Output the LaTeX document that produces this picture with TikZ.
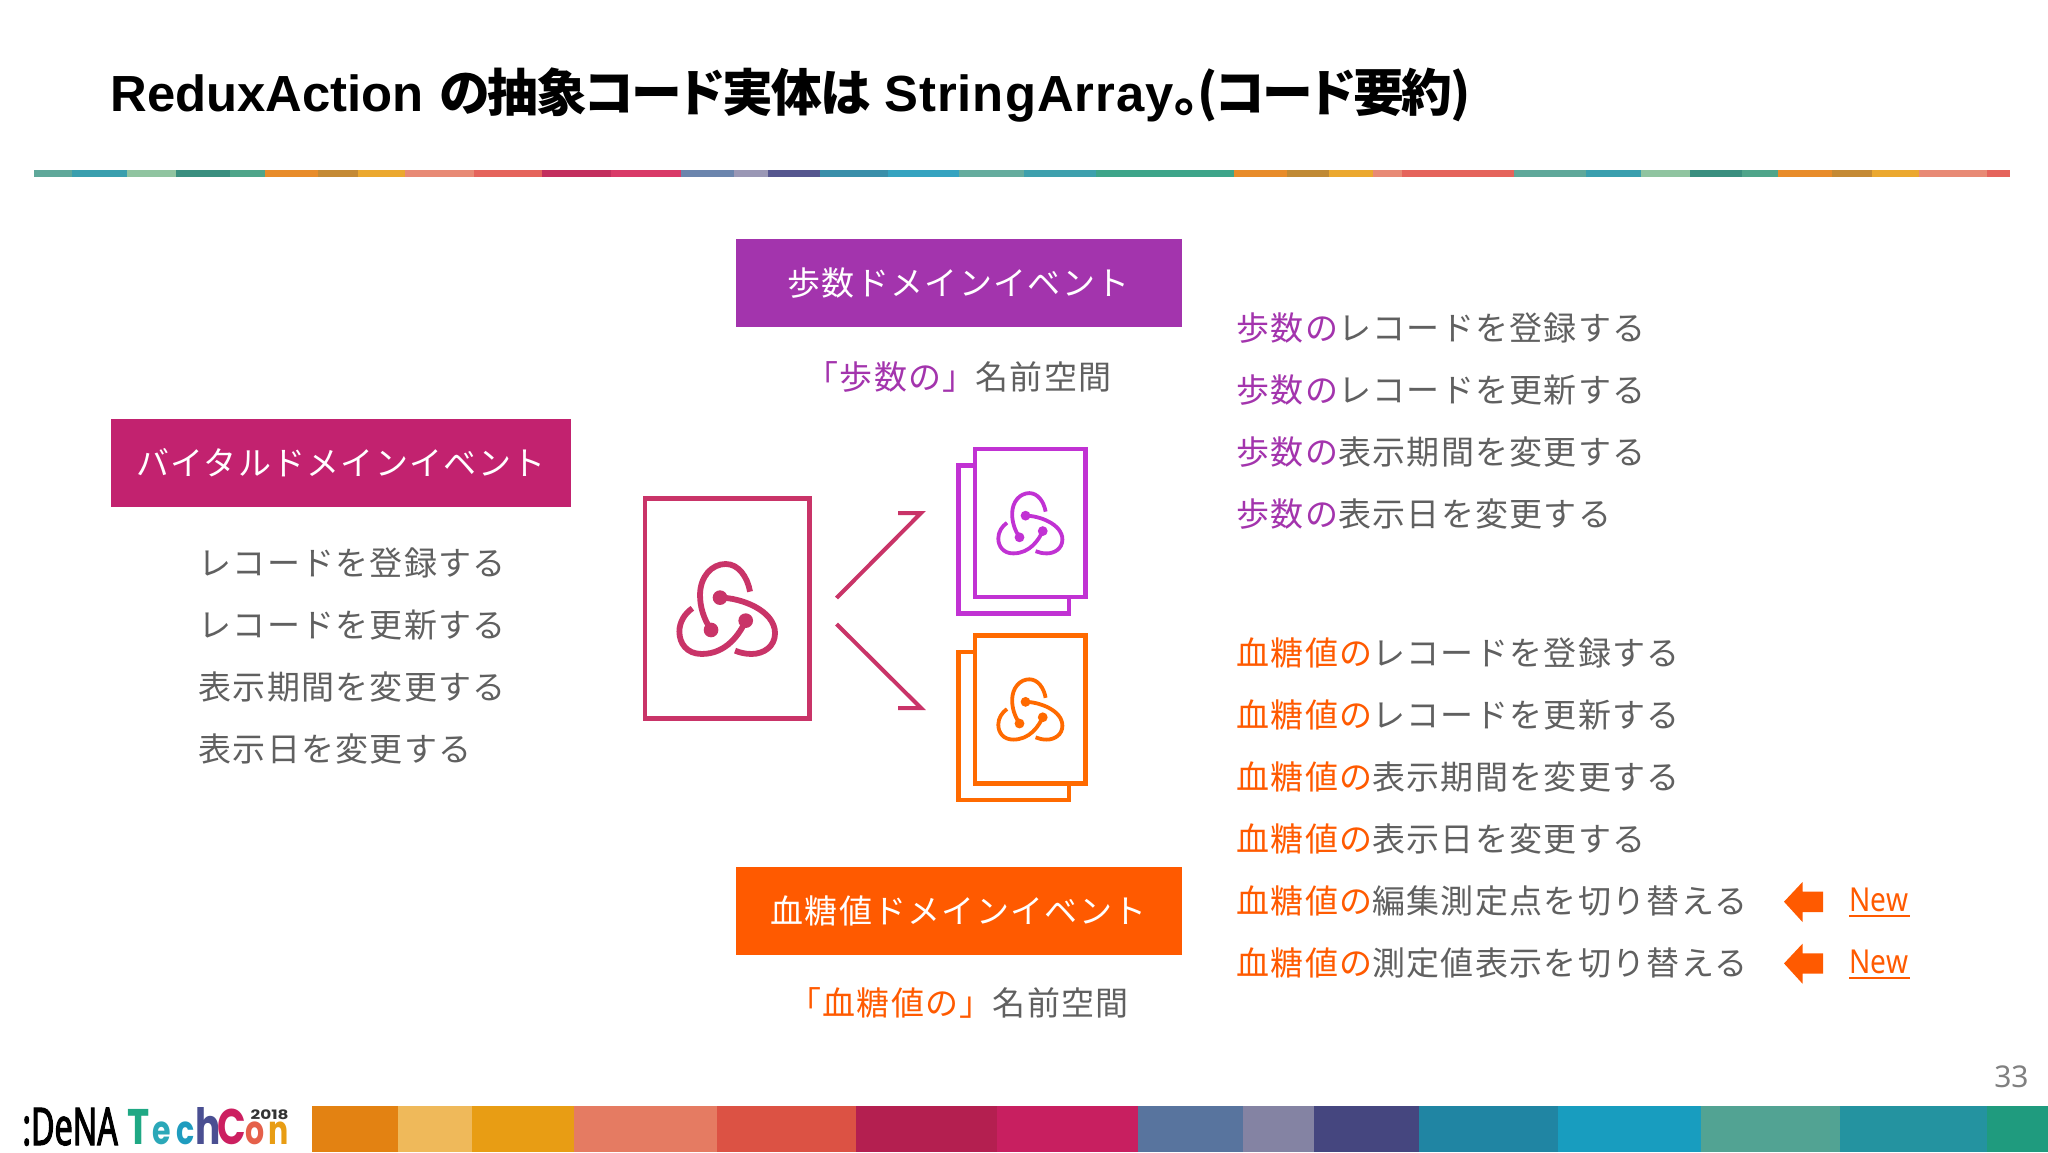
\documentclass[tikz,border=0pt]{standalone}
\usepackage{fontspec}
\setmainfont{Noto Sans CJK JP}
\newfontfamily\bodyf[LetterSpace=4]{Noto Sans CJK JP}
\newfontfamily\titlecjk[RawFeature=+palt,LetterSpace=-4]{Noto Sans CJK JP}
\newfontfamily\titlelat{Liberation Sans}
\newfontfamily\titlelatb[LetterSpace=2]{Liberation Sans}
\newfontfamily\newf{Noto Sans}
\newfontfamily\newnf[FakeStretch=0.85]{Noto Sans}
\newfontfamily\logof[FakeStretch=0.62,FakeBold=2]{Noto Sans}
\newfontfamily\techf[FakeStretch=0.75]{Poppins}
\newfontfamily\yearf[FakeStretch=1.3]{Poppins}
\definecolor{crim}{HTML}{C93468}
\definecolor{purp}{HTML}{C132D3}
\definecolor{oran}{HTML}{FF6A00}
\definecolor{hpurp}{HTML}{A334AD}
\definecolor{hcrim}{HTML}{C2226F}
\definecolor{horan}{HTML}{FF5A00}
\definecolor{txt}{HTML}{606060}
\definecolor{seg}{HTML}{000000}
\tikzset{
  header/.style={inner sep=0pt,text=white,font=\bodyf\fontsize{16.5}{18}\selectfont,anchor=center},
  linetext/.style={inner sep=0pt,anchor=base west,text=txt,font=\bodyf\fontsize{16.5}{18}\selectfont},
  nstext/.style={inner sep=0pt,anchor=base,text=txt,font=\bodyf\fontsize{16.5}{18}\selectfont},
  sheet/.style={draw=#1,fill=white,line width=2.33pt,inner sep=0pt,minimum width=55.35pt,minimum height=74pt},
  bigsheet/.style={draw=#1,fill=white,line width=2.33pt,inner sep=0pt,minimum width=82.35pt,minimum height=110.2pt},
  halfarrow/.style={draw=crim,line width=2pt,miter limit=10},
  newarrow/.style={fill=horan,draw=none},
  newlabel/.style={inner sep=0pt,anchor=base west,text=horan,font=\newnf\fontsize{16.5}{18}\selectfont},
}
\newcommand{\lgbox}[3]{\makebox[11.6pt]{\textcolor[HTML]{#1}{\fontsize{#2}{30}\selectfont #3}}}
% logo: centre x, centre y, scale, line width, colour
\newcommand{\reduxlogo}[5]{%
  \begin{scope}[shift={(#1,#2)},scale=#3]
    \draw[#5,line width=#4] (-47,65) .. controls (-70,30) and (-80,-5) .. (-80,-40) .. controls (-80,-95) and (-45,-133) .. (-3,-133) .. controls (35,-133) and (62,-95) .. (70,-50);
    \draw[#5,line width=#4] (-20,-32) .. controls (40,-32) and (145,5) .. (145,75) .. controls (145,115) and (110,137) .. (75,137) .. controls (55,137) and (40,133) .. (25,127);
    \draw[#5,line width=#4] (57,37) .. controls (40,75) and (0,137) .. (-75,137) .. controls (-120,137) and (-142,105) .. (-142,70) .. controls (-142,40) and (-125,15) .. (-103,0);
    \fill[#5] (-20,-32) circle (22) (-47,65) circle (22) (57,37) circle (22);
  \end{scope}}
\begin{document}
\begin{tikzpicture}[x=0.5pt,y=-0.5pt]
\useasboundingbox (0,0) rectangle (2048,1152);
\fill[white] (0,0) rectangle (2048,1152);

% title
\node[inner sep=0pt,anchor=base west,text=black,font=\bfseries] (title) at (110,111)
  {\fontsize{25.4}{30}\selectfont\titlelat ReduxAction \kern0.8pt\titlecjk の抽象コード実体は\titlelat{} \titlelatb StringArray\titlecjk 。(コード要約)};

% top stripe
\foreach \a/\b/\c in {34/72/5FA89A,72/127/3A9FAE,127/176/90C4A0,176/230/3A8F7F,230/265/4FA58A,265/318/E88C2A,318/358/C48A35,358/405/EBA82F,405/474/E88A75,474/542/E5645C,542/611/C32F5E,611/681/D93A68,681/734/6B85AD,734/768/9A97B5,768/820/56578F,820/888/3A8FAA,888/959/35A3C0,959/1024/65AC9E,1024/1096/3EA0AD,1096/1234/3EA58A,1234/1287/E88C2A,1287/1329/C08A35,1329/1373/EBA82F,1373/1402/E88A75,1402/1514/E5645C,1514/1586/5FA89A,1586/1641/3A9FAE,1641/1690/90C4A0,1690/1742/3A8F7F,1742/1778/4FA58A,1778/1832/E88C2A,1832/1872/C48A35,1872/1919/EBA82F,1919/1987/E88A75,1987/2010/E5645C}
  {\definecolor{seg}{HTML}{\c}\fill[seg] (\a,170) rectangle (\b,176.5);}

% bottom band
\foreach \a/\b/\c in {312/398/E38212,398/472/EFB95A,472/573.5/E89D14,573.5/717/E57B62,717/856/DC5244,856/997/B41F50,997/1138/C81F60,1138/1243/58749E,1243/1314/8483A3,1314/1419/45467F,1419/1558/2085A3,1558/1701/189DBF,1701/1840/52A393,1840/1987/2493A0,1987/2048/1F9B7E}
  {\definecolor{seg}{HTML}{\c}\fill[seg] (\a,1106) rectangle (\b,1152);}

% footer logo
\node[inner sep=0pt,anchor=base west,text=black,font=\logof\bfseries\fontsize{26}{30}\selectfont] (dena) at (22,1145) {:DeNA};
\node[inner sep=0pt,anchor=base west,font=\techf\bfseries] (tech) at (127,1144)
  {\lgbox{1FA884}{25}{T}\lgbox{2BA8B8}{20}{e}\lgbox{1F9CBF}{20}{c}\lgbox{4A4F92}{25}{h}\lgbox{CC1F60}{25}{C}\lgbox{E5604A}{20}{o}\lgbox{E89D14}{20}{n}};
\node[inner sep=0pt,anchor=base east,text=black!80,font=\yearf\bfseries\fontsize{6.5}{8}\selectfont] (year) at (289,1119) {2018};

% page number
\node[inner sep=0pt,anchor=base east,text=black!50,font=\newf\fontsize{15}{18}\selectfont] (page) at (2029,1087) {33};

% header boxes
\node[header,fill=hpurp,minimum width=223pt,minimum height=44pt] (hstep) at (958.5,283) {歩数ドメインイベント};
\node[header,fill=hcrim,minimum width=230pt,minimum height=44pt] (hvital) at (341,463) {バイタルドメインイベント};
\node[header,fill=horan,minimum width=223pt,minimum height=44pt] (hglu) at (958.5,910.5) {血糖値ドメインイベント};

% namespace captions
\node[nstext] (nsstep) at (958.5,389) {\textcolor{hpurp}{「歩数の」}名前空間};
\node[nstext] (nsglu) at (958.5,1015) {\textcolor{horan}{「血糖値の」}名前空間};

% left column
\node[linetext] (l1) at (198,575) {レコードを登録する};
\node[linetext] (l2) at (198,637) {レコードを更新する};
\node[linetext] (l3) at (198,699) {表示期間を変更する};
\node[linetext] (l4) at (198,761) {表示日を変更する};

% right column, steps
\node[linetext] (s1) at (1236,340) {\textcolor{hpurp}{歩数の}レコードを登録する};
\node[linetext] (s2) at (1236,402) {\textcolor{hpurp}{歩数の}レコードを更新する};
\node[linetext] (s3) at (1236,464) {\textcolor{hpurp}{歩数の}表示期間を変更する};
\node[linetext] (s4) at (1236,526) {\textcolor{hpurp}{歩数の}表示日を変更する};

% right column, glucose
\node[linetext] (g1) at (1236,665) {\textcolor{horan}{血糖値の}レコードを登録する};
\node[linetext] (g2) at (1236,727) {\textcolor{horan}{血糖値の}レコードを更新する};
\node[linetext] (g3) at (1236,789) {\textcolor{horan}{血糖値の}表示期間を変更する};
\node[linetext] (g4) at (1236,851) {\textcolor{horan}{血糖値の}表示日を変更する};
\node[linetext] (g5) at (1236,913) {\textcolor{horan}{血糖値の}編集測定点を切り替える};
\node[linetext] (g6) at (1236,975) {\textcolor{horan}{血糖値の}測定値表示を切り替える};

% New markers
\fill[newarrow] (1784,901.7) -- (1802.5,882) -- (1802.5,891.7) -- (1823,891.7) -- (1823,912) -- (1802.5,912) -- (1802.5,922) -- cycle;
\fill[newarrow] (1784,963.4) -- (1802.5,943.7) -- (1802.5,953.4) -- (1823,953.4) -- (1823,973.7) -- (1802.5,973.7) -- (1802.5,983.7) -- cycle;
\node[newlabel] (n1) at (1849,911) {New};
\node[newlabel] (n2) at (1849,973) {New};
\draw[horan,line width=1.1pt] (n1.base west)++(0,5) -- ++(61,0);
\draw[horan,line width=1.1pt] (n2.base west)++(0,5) -- ++(61,0);

% source sheet
\node[bigsheet=crim] (doc) at (727.3,608.5) {};
\reduxlogo{726.7}{608.3}{0.3333}{2.9pt}{crim}

% target sheets, purple
\node[sheet=purp] (pback) at (1013.7,539.7) {};
\node[sheet=purp] (pfront) at (1030.3,523) {};
\reduxlogo{1030}{522.8}{0.2233}{1.9pt}{purp}

% target sheets, orange
\node[sheet=oran] (oback) at (1013.7,726) {};
\node[sheet=oran] (ofront) at (1030.3,709.3) {};
\reduxlogo{1030}{709}{0.2233}{1.9pt}{oran}

% branching connectors
\coordinate (upstart) at (836.5,598);
\coordinate (uptip) at (921,513);
\coordinate (upbarb) at (898,513);
\coordinate (dnstart) at (836.5,624);
\coordinate (dntip) at (921,708);
\coordinate (dnbarb) at (898,708);
\draw[halfarrow] (upstart) -- (uptip) -- (upbarb);
\draw[halfarrow] (dnstart) -- (dntip) -- (dnbarb);
\end{tikzpicture}
\end{document}
